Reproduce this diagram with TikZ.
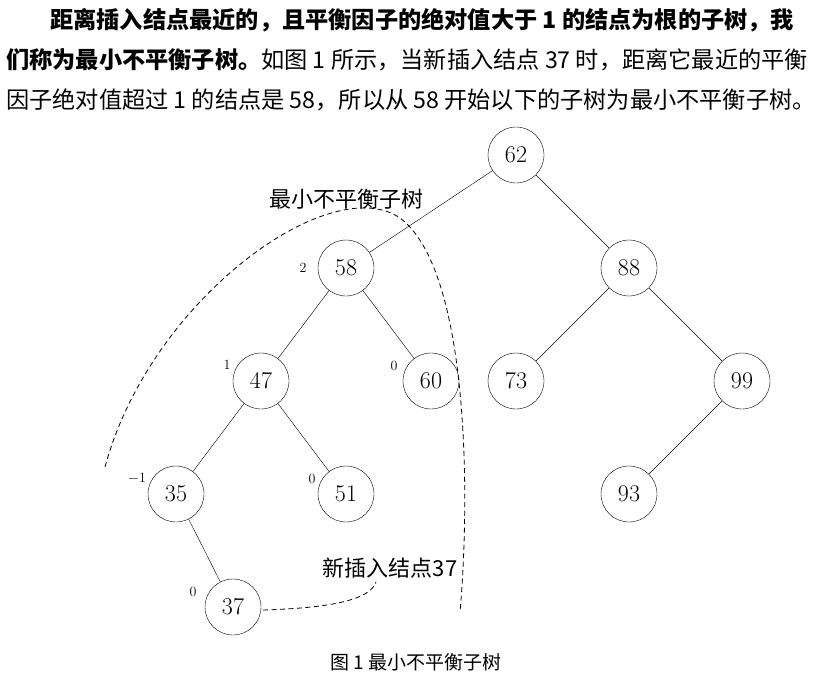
\documentclass[tikz,border=0pt]{standalone}
\usepackage{fontspec}
\newfontfamily\cjk{Noto Sans CJK SC}
\begin{document}
\begin{tikzpicture}[x=1pt,y=-1pt,
  nd/.style={circle,draw,minimum size=56pt,inner sep=0pt,font=\fontsize{24}{24}\selectfont},
  bf/.style={font=\fontsize{14}{14}\selectfont,inner sep=0pt},
  dsh/.style={dash pattern=on 5pt off 3.5pt,line width=0.8pt},
  tx/.style={font=\cjk\fontsize{23.2}{23.2}\selectfont,inner sep=0pt,anchor=west}]
\useasboundingbox (0,0) rectangle (840,683);
\node[tx] (l1) at (50,20) {\textbf{距离插入结点最近的，且平衡因子的绝对值大于 1 的结点为根的子树，我}};
\node[tx] (l2) at (6,60) {\textbf{们称为最小不平衡子树。}如图 1 所示，当新插入结点 37 时，距离它最近的平衡};
\node[tx] (l3) at (6,100) {因子绝对值超过 1 的结点是 58，所以从 58 开始以下的子树为最小不平衡子树。};
\node[nd] (n62) at (516,155) {62};
\node[nd] (n58) at (346,268) {58};
\node[nd] (n88) at (629,268) {88};
\node[nd] (n47) at (261,381) {47};
\node[nd] (n60) at (431,381) {60};
\node[nd] (n73) at (516,381) {73};
\node[nd] (n99) at (742,381) {99};
\node[nd] (n35) at (176,494) {35};
\node[nd] (n51) at (346,494) {51};
\node[nd] (n93) at (629,494) {93};
\node[nd] (n37) at (233,607) {37};
\draw (n62)--(n58); \draw (n62)--(n88);
\draw (n58)--(n47); \draw (n58)--(n60);
\draw (n88)--(n73); \draw (n88)--(n99);
\draw (n47)--(n35); \draw (n47)--(n51);
\draw (n99)--(n93); \draw (n35)--(n37);
\node[bf] (b58) at (303,268) {2};
\node[bf] (b47) at (227,365) {1};
\node[bf] (b60) at (394,366) {0};
\node[bf] (b35) at (137,478) {$-$1};
\node[bf] (b51) at (312,479) {0};
\node[bf] (b37) at (193,592) {0};
\node[font=\cjk\fontsize{22}{22}\selectfont] (lab1) at (346,199) {最小不平衡子树};
\node[font=\cjk\fontsize{22}{22}\selectfont,inner sep=0pt] (lab2) at (390,568) {新插入结点37};
\node[font=\cjk\fontsize{19}{19}\selectfont] (cap) at (416,662) {图 1 最小不平衡子树};
\draw[dsh] (105,467) .. controls (150,300) and (330,170) .. (400,218)
  .. controls (470,270) and (470,500) .. (460,612);
\draw[dsh] (263,610) .. controls (330,608) and (370,600) .. (376,582);
\end{tikzpicture}
\end{document}
